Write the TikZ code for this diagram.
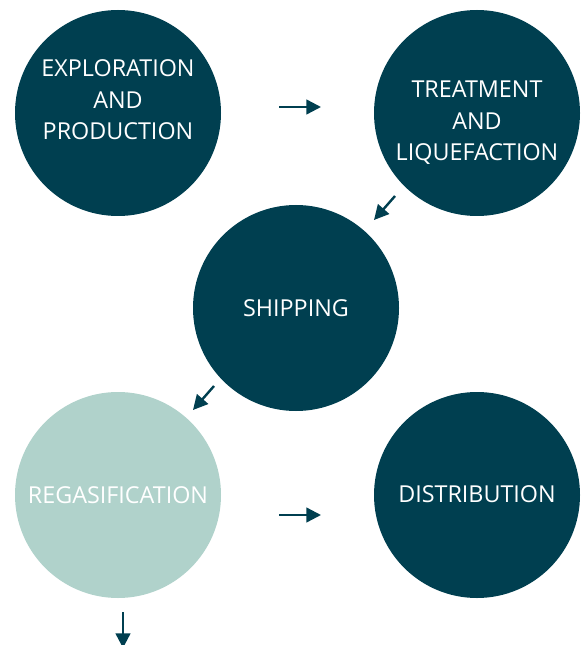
\documentclass[tikz,border=0pt]{standalone}
\usepackage{fontspec}
\setmainfont{Open Sans}
\usepackage{tikz}
\usetikzlibrary{arrows.meta, positioning, calc}

\definecolor{lngdark}{HTML}{003F50}
\definecolor{lnglight}{HTML}{B0D2CB}

\begin{document}
\begin{tikzpicture}[x=0.75pt, y=-0.75pt,
	stage/.style={circle, fill=lngdark, minimum size=154.5pt, inner sep=0pt},
	stagetxt/.style={text=white, align=center, font=\fontsize{17.5}{23.6}\selectfont},
	flow/.style={-{Triangle[length=11pt, width=11pt]}, line width=1.8pt, draw=lngdark}]
	\clip (0,0) rectangle (585,645);
	
	\node[stage] (explor) at (118,113) {};
	\node[stage] (treat) at (477,113) {};
	\node[stage] (ship) at (296,308) {};
	\node[stage, fill=lnglight] (regas) at (118,495) {};
	\node[stage] (distrib) at (477,495) {};
	
	\node[stagetxt] (explortxt) at ($(explor)+(0,-13)$) {EXPLORATION\\AND\\PRODUCTION};
	\node[stagetxt] (treattxt) at ($(treat)+(0,10)$) {TREATMENT\\AND\\LIQUEFACTION};
	\node[stagetxt] (shiptxt) at (ship) {SHIPPING};
	\node[stagetxt] (regastxt) at (regas) {REGASIFICATION};
	\node[stagetxt] (distribtxt) at ($(distrib)+(0,-1)$) {DISTRIBUTION};
	
	\coordinate (flowa) at (279,107);
	\coordinate (flowA) at (321,107);
	\coordinate (flowb) at (395,196);
	\coordinate (flowB) at (374,220);
	\coordinate (flowc) at (214,386);
	\coordinate (flowC) at (193,410);
	\coordinate (flowd) at (279,515);
	\coordinate (flowD) at (321,515);
	\coordinate (flowe) at (123,612);
	\coordinate (flowE) at (123,648);
	
	\draw[flow] (flowa) -- (flowA);
	\draw[flow] (flowb) -- (flowB);
	\draw[flow] (flowc) -- (flowC);
	\draw[flow] (flowd) -- (flowD);
	\draw[flow] (flowe) -- (flowE);
\end{tikzpicture}
\end{document}
